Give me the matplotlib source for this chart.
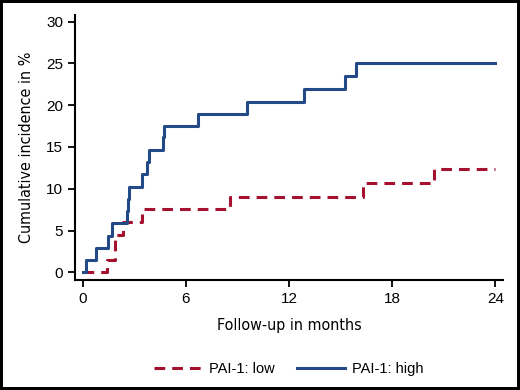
import matplotlib.pyplot as plt

# step times (months) and cumulative incidence (%)
high_t = [0, 0.19, 0.76, 1.49, 1.68, 2.55, 2.63, 2.67, 3.43, 3.76, 3.88, 4.69, 4.75,
          6.72, 9.53, 12.87, 15.25, 15.89, 24]
high_y = [0, 1.47, 2.94, 4.38, 5.86, 7.37, 8.73, 10.24, 11.76, 13.16, 14.63, 16.15, 17.54,
          18.94, 20.41, 21.89, 23.48, 25.0, 25.0]
low_t = [0, 1.43, 1.88, 2.36, 3.43, 8.56, 16.28, 20.42, 24]
low_y = [0, 1.47, 4.46, 6.05, 7.53, 9.05, 10.64, 12.31, 12.31]

xticks = [0, 6, 12, 18, 24]
yticks = [0, 5, 10, 15, 20, 25, 30]

blue = '#234a86'
red = '#a5122f'

plt.rcParams['font.family'] = ['Liberation Sans', 'DejaVu Sans']

fig = plt.figure(figsize=(5.2, 3.9), dpi=100)
fig.patch.set_edgecolor('black')
fig.patch.set_linewidth(3)
ax = fig.add_axes([75/520, 1-280/390, 428/520, 265/390])

ax.step(low_t, low_y, where='post', color=red, lw=2.2, dashes=(3.5, 2.3),
        label='PAI-1: low')
ax.step(high_t, high_y, where='post', color=blue, lw=2.2, label='PAI-1: high')

ax.set_xlim(-0.45, 24.45)
ax.set_ylim(-0.92, 30.8)
ax.set_xticks(xticks)
ax.set_yticks(yticks)
for s in ['top', 'right']:
    ax.spines[s].set_visible(False)
for s in ['left', 'bottom']:
    ax.spines[s].set_linewidth(1.5)
ax.tick_params(direction='out', length=5, width=1.3, labelsize=11, pad=3.5)

ax.set_xlabel('Follow-up in months', fontsize=11.5, family='DejaVu Sans',
              stretch='condensed', labelpad=9)
ax.set_ylabel('Cumulative incidence in %', fontsize=11.5, family='DejaVu Sans',
              stretch='condensed', labelpad=9)

ax.legend(loc='upper center', bbox_to_anchor=(0.5, -0.26), ncol=2, frameon=False,
          fontsize=10.5, handlelength=3.3, columnspacing=1.5, handletextpad=0.5)

fig.savefig('out.png', dpi=100)
